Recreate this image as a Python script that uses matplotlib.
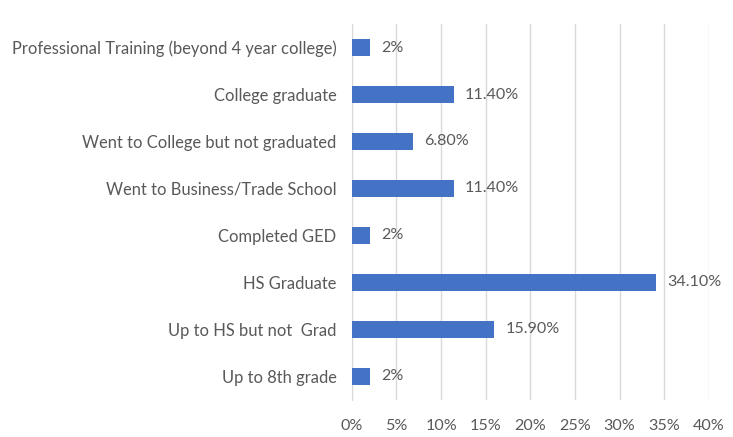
import matplotlib.pyplot as plt

categories = [
    'Professional Training (beyond 4 year college)',
    'College graduate',
    'Went to College but not graduated',
    'Went to Business/Trade School',
    'Completed GED',
    'HS Graduate',
    'Up to HS but not  Grad',
    'Up to 8th grade',
]
values = [2, 11.4, 6.8, 11.4, 2, 34.1, 15.9, 2]
value_labels = ['2%', '11.40%', '6.80%', '11.40%', '2%', '34.10%', '15.90%', '2%']
ticks = [0, 5, 10, 15, 20, 25, 30, 35, 40]

plt.rcParams['font.family'] = ['Lato', 'DejaVu Sans']
text_color = '#595959'
fs = 11.6

fig = plt.figure(figsize=(7.33, 4.37), dpi=100)
ax = fig.add_axes([0.480, 0.085, 0.487, 0.86])

ypos = list(range(len(categories)))[::-1]
ax.barh(ypos, values, height=0.36, color='#4472C4', zorder=3)

for y, v, lab in zip(ypos, values, value_labels):
    ax.text(v + 1.3, y, lab, va='center', ha='left', fontsize=fs, color=text_color)

ax.set_xlim(0, 40)
ax.set_ylim(-0.5, len(categories) - 0.5)
ax.set_xticks(ticks)
ax.set_xticklabels([f'{t}%' for t in ticks], fontsize=fs, color=text_color)
ax.set_yticks(ypos)
ax.set_yticklabels(categories, fontsize=11.9, color=text_color)
ax.tick_params(axis='x', length=0, pad=14)
ax.tick_params(axis='y', length=0, pad=11)

ax.grid(axis='x', color='#D9D9D9', linewidth=1, zorder=0)
for s in ['top', 'right', 'bottom']:
    ax.spines[s].set_visible(False)
ax.spines['left'].set_color('#D9D9D9')
ax.spines['left'].set_zorder(1)

fig.savefig('out.png', dpi=100)
